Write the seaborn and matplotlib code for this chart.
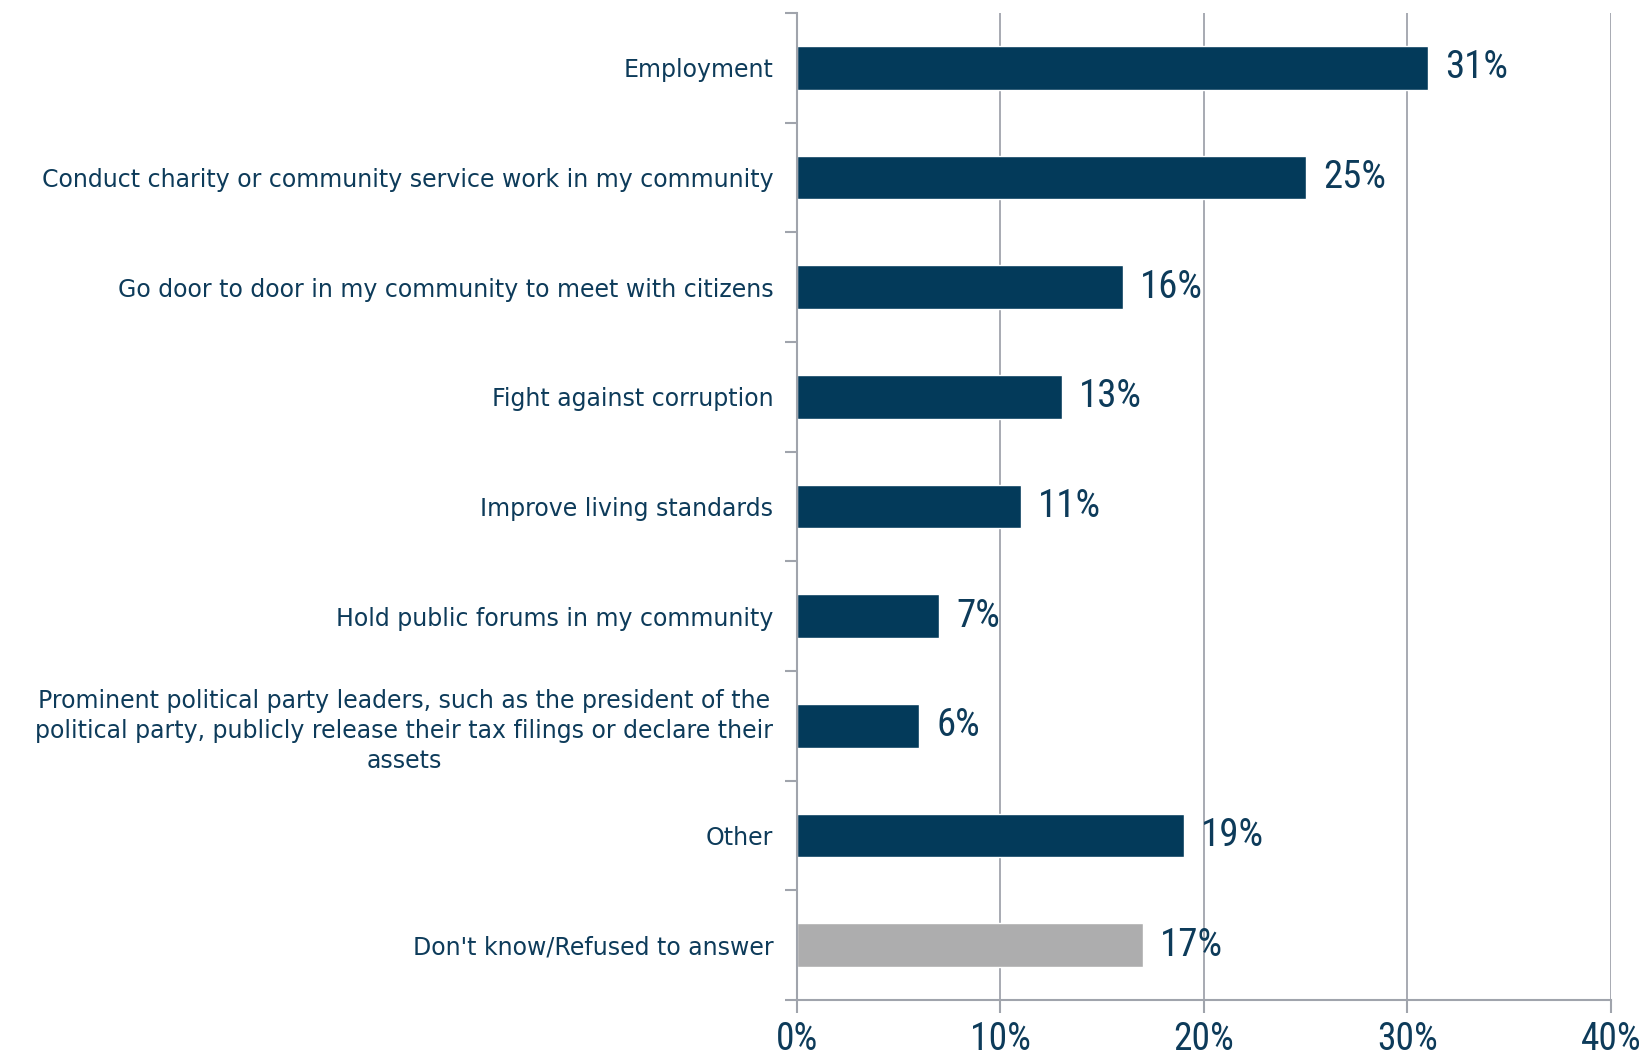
import matplotlib
matplotlib.use("Agg")
import matplotlib.pyplot as plt
import seaborn as sns
import pandas as pd
import numpy as np
from matplotlib.ticker import FixedLocator, PercentFormatter

# --- datos ---
categorias = [
    "Employment",
    "Conduct charity or community service work in my community",
    "Go door to door in my community to meet with citizens",
    "Fight against corruption",
    "Improve living standards",
    "Hold public forums in my community",
    "Prominent political party leaders, such as the president of the\npolitical party, publicly release their tax filings or declare their\nassets",
    "Other",
    "Don't know/Refused to answer",
]
valores = [31, 25, 16, 13, 11, 7, 6, 19, 17]
grupo = ["resp"] * 8 + ["dk"]
ticks_x = [0, 10, 20, 30, 40]

NAVY = "#033a5a"
GRIS = "#adadae"
EJE = "#a0a4ac"
TEXTO = "#0d3b5a"
NUM_FONT = ["Roboto Condensed", "DejaVu Sans"]

sns.set_theme(style="white")
plt.rcParams['font.family'] = ['DejaVu Sans']

df = pd.DataFrame({"cat": categorias, "val": valores, "grp": grupo})

fig = plt.figure(figsize=(16.48, 10.61), dpi=100)
ax = fig.add_axes([0.4836, 0.0575, 0.4939, 0.9302])

sns.barplot(data=df, x="val", y="cat", hue="grp", order=categorias,
            palette={"resp": NAVY, "dk": GRIS}, dodge=False, width=0.4,
            legend=False, ax=ax, saturation=1)

ax.set_xlim(0, 40)
ax.set_ylim(8.5, -0.5)
ax.set_xlabel("")
ax.set_ylabel("")

# rejilla vertical
ax.xaxis.set_major_locator(FixedLocator(ticks_x))
ax.xaxis.set_major_formatter(PercentFormatter(decimals=0))
for x in ticks_x[1:]:
    ax.axvline(x, color=EJE, lw=1.3, zorder=0)

# espinas
for s in ["top", "right"]:
    ax.spines[s].set_visible(False)
for s in ["left", "bottom"]:
    ax.spines[s].set_color(EJE)
    ax.spines[s].set_linewidth(1.5)

# ticks eje y entre categorias
ax.yaxis.set_minor_locator(FixedLocator(np.arange(-0.5, 9, 1)))
ax.tick_params(axis="y", which="minor", length=9, width=1.5, color=EJE, left=True)
ax.tick_params(axis="y", which="major", length=0, pad=17, labelsize=17, labelcolor=TEXTO)
ax.tick_params(axis="x", which="major", length=9, width=1.5, color=EJE, bottom=True,
               pad=6, labelsize=27, labelcolor=TEXTO)
for lab in ax.get_yticklabels():
    lab.set_multialignment("center")
    lab.set_linespacing(1.3)
for lab in ax.get_xticklabels():
    lab.set_fontfamily(NUM_FONT)

# etiquetas de valor
for i, v in enumerate(valores):
    ax.text(v + 0.85, i, f"{v}%", va="center", ha="left", fontsize=28, color=TEXTO,
            family=NUM_FONT)

fig.savefig("out.png", dpi=100)
